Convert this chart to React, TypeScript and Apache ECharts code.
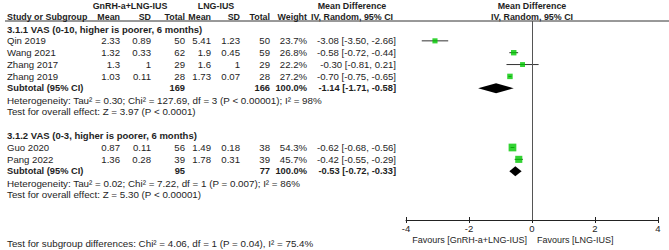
import React, { useEffect, useRef } from 'react';
import * as echarts from 'echarts';

// ---------- data ----------
const studies = ['Qin 2019', 'Wang 2021', 'Zhang 2017', 'Zhang 2019', 'Guo 2020', 'Pang 2022'];
const studyGroup = [0, 0, 0, 0, 1, 1];
const expMean = [2.33, 1.32, 1.3, 1.03, 0.87, 1.36];
const expSD = [0.89, 0.33, 1, 0.11, 0.11, 0.28];
const expTotal = [50, 62, 29, 28, 56, 39];
const ctlMean = [5.41, 1.9, 1.6, 1.73, 1.49, 1.78];
const ctlSD = [1.23, 0.45, 1, 0.07, 0.18, 0.31];
const ctlTotal = [50, 59, 29, 28, 38, 39];
const weight = [23.7, 26.8, 22.2, 27.2, 54.3, 45.7];
const md = [-3.08, -0.58, -0.3, -0.7, -0.62, -0.42];
const mdLo = [-3.5, -0.72, -0.81, -0.75, -0.68, -0.55];
const mdHi = [-2.66, -0.44, 0.21, -0.65, -0.56, -0.29];

const subgroupTitles = [
  '3.1.1 VAS (0-10, higher is poorer, 6 months)',
  '3.1.2 VAS (0-3, higher is poorer, 6 months)',
];
const subExpTotal = [169, 95];
const subCtlTotal = [166, 77];
const subWeight = [100.0, 100.0];
const subMd = [-1.14, -0.53];
const subLo = [-1.71, -0.72];
const subHi = [-0.58, -0.33];
const heterogeneity = [
  'Heterogeneity: Tau² = 0.30; Chi² = 127.69, df = 3 (P < 0.00001); I² = 98%',
  'Heterogeneity: Tau² = 0.02; Chi² = 7.22, df = 1 (P = 0.007); I² = 86%',
];
const overallEffect = [
  'Test for overall effect: Z = 3.97 (P < 0.0001)',
  'Test for overall effect: Z = 5.30 (P < 0.00001)',
];
const subgroupDiff = 'Test for subgroup differences: Chi² = 4.06, df = 1 (P = 0.04), I² = 75.4%';
const xTicks = [-4, -2, 0, 2, 4];
const favoursLeft = 'Favours [GnRH-a+LNG-IUS]';
const favoursRight = 'Favours [LNG-IUS]';

// ---------- layout ----------
const W = 669;
const H = 250;
const FONT = '"Liberation Sans", Arial, sans-serif';
const ROW0 = 29;
const ROWH = 11.85;
const rowY = (k: number) => ROW0 + ROWH * k;
const GRID_TOP = 21;
const AXIS_Y = 220;
const PLOT_L = 406;
const PLOT_R = 658;
const TXT = '#1e1e1e';
const BODY = 9.6;
const NOTE = 9.8;

const COL = {
  name: 7,
  expMean: 120,
  expSD: 151,
  expTotal: 185,
  ctlMean: 211,
  ctlSD: 240,
  ctlTotal: 270,
  weight: 307,
  ci: 396,
};

function fmtCI(m: number, l: number, h: number) {
  return `${m.toFixed(2)} [${l.toFixed(2)}, ${h.toFixed(2)}]`;
}

export default function App() {
  const ref = useRef<HTMLDivElement>(null);

  useEffect(() => {
    if (!ref.current) return;
    const chart = echarts.init(ref.current, undefined, { renderer: 'svg' });

    const texts: any[] = [];
    const t = (
      text: string,
      x: number,
      y: number,
      align: string,
      opts: { bold?: boolean; size?: number } = {}
    ) => {
      texts.push({
        type: 'text',
        x,
        y,
        silent: true,
        style: {
          text,
          fill: TXT,
          fontFamily: FONT,
          fontSize: opts.size ?? BODY,
          fontWeight: opts.bold ? 'bold' : 'normal',
          textAlign: align,
          textVerticalAlign: 'middle',
        },
      });
    };

    // headers
    const h1 = 6;
    const h2 = 16.5;
    const hb = { bold: true, size: 8.9 };
    t('GnRH-a+LNG-IUS', 130, h1, 'center', hb);
    t('LNG-IUS', 216, h1, 'center', hb);
    t('Mean Difference', 352, h1, 'center', hb);
    t('Mean Difference', 532, h1, 'center', hb);
    t('Study or Subgroup', COL.name, h2, 'left', hb);
    t('Mean', COL.expMean, h2, 'right', hb);
    t('SD', COL.expSD, h2, 'right', hb);
    t('Total', COL.expTotal, h2, 'right', hb);
    t('Mean', COL.ctlMean, h2, 'right', hb);
    t('SD', COL.ctlSD, h2, 'right', hb);
    t('Total', COL.ctlTotal, h2, 'right', hb);
    t('Weight', COL.weight, h2, 'right', hb);
    t('IV, Random, 95% CI', 352, h2, 'center', hb);
    t('IV, Random, 95% CI', 532, h2, 'center', hb);

    // body rows
    const studyRows: number[] = [];
    const subRows: number[] = [];
    let k = 0;
    subgroupTitles.forEach((title, g) => {
      t(title, COL.name, rowY(k), 'left', { bold: true, size: 9.5 });
      k++;
      studies.forEach((s, i) => {
        if (studyGroup[i] !== g) return;
        const y = rowY(k);
        studyRows[i] = k;
        t(s, COL.name, y, 'left');
        t(String(expMean[i]), COL.expMean, y, 'right');
        t(String(expSD[i]), COL.expSD, y, 'right');
        t(String(expTotal[i]), COL.expTotal, y, 'right');
        t(String(ctlMean[i]), COL.ctlMean, y, 'right');
        t(String(ctlSD[i]), COL.ctlSD, y, 'right');
        t(String(ctlTotal[i]), COL.ctlTotal, y, 'right');
        t(weight[i].toFixed(1) + '%', COL.weight, y, 'right');
        t(fmtCI(md[i], mdLo[i], mdHi[i]), COL.ci, y, 'right');
        k++;
      });
      const ys = rowY(k);
      subRows[g] = k;
      const sb = { bold: true, size: 9.3 };
      t('Subtotal (95% CI)', COL.name, ys, 'left', sb);
      t(String(subExpTotal[g]), COL.expTotal, ys, 'right', sb);
      t(String(subCtlTotal[g]), COL.ctlTotal, ys, 'right', sb);
      t(subWeight[g].toFixed(1) + '%', COL.weight, ys, 'right', sb);
      t(fmtCI(subMd[g], subLo[g], subHi[g]), COL.ci, ys, 'right', sb);
      k++;
      t(heterogeneity[g], COL.name, rowY(k), 'left', { size: NOTE });
      k++;
      t(overallEffect[g], COL.name, rowY(k), 'left', { size: NOTE });
      k++;
      k++;
    });
    t(subgroupDiff, COL.name, 243, 'left', { size: NOTE });
    t(favoursLeft, 527, 240, 'right', { size: 9 });
    t(favoursRight, 537, 240, 'left', { size: 9 });

    const yMin = (GRID_TOP - ROW0) / ROWH;
    const yMax = (AXIS_Y - ROW0) / ROWH;

    const ciData = studies.map((_, i) => [mdLo[i], mdHi[i], studyRows[i]]);
    const sqData = studies.map((_, i) => [md[i], studyRows[i], weight[i]]);
    const diaData = subgroupTitles.map((_, g) => [subLo[g], subMd[g], subHi[g], subRows[g]]);

    chart.setOption({
      animation: false,
      grid: {
        left: PLOT_L,
        right: W - PLOT_R,
        top: GRID_TOP,
        bottom: H - AXIS_Y,
        containLabel: false,
      },
      xAxis: [
        {
          type: 'value',
          min: xTicks[0],
          max: xTicks[xTicks.length - 1],
          interval: 2,
          position: 'bottom',
          splitLine: { show: false },
          axisLine: { show: true, onZero: false, lineStyle: { color: '#222', width: 1 } },
          axisTick: { show: true, length: 3, lineStyle: { color: '#222' } },
          axisLabel: {
            show: true,
            margin: 3,
            color: '#222',
            fontSize: 9.5,
            fontFamily: FONT,
            formatter: (v: number) => String(v),
          },
        },
        {
          type: 'value',
          min: xTicks[0],
          max: xTicks[xTicks.length - 1],
          interval: 2,
          position: 'bottom',
          splitLine: { show: false },
          axisLine: { show: false, onZero: false },
          axisTick: { show: true, inside: true, length: 3, lineStyle: { color: '#222' } },
          axisLabel: { show: false },
        },
      ],
      yAxis: {
        type: 'value',
        min: yMin,
        max: yMax,
        inverse: true,
        show: false,
      },
      graphic: [
        {
          type: 'line',
          silent: true,
          shape: { x1: 5, y1: GRID_TOP, x2: W, y2: GRID_TOP },
          style: { stroke: '#333', lineWidth: 1 },
        },
        ...texts,
      ],
      series: [
        {
          type: 'custom',
          name: 'ci',
          z: 2,
          silent: true,
          data: ciData,
          encode: { x: [0, 1], y: 2 },
          renderItem: (params: any, api: any) => {
            const p1 = api.coord([api.value(0), api.value(2)]);
            const p2 = api.coord([api.value(1), api.value(2)]);
            return {
              type: 'line',
              shape: { x1: p1[0], y1: p1[1], x2: p2[0], y2: p2[1] },
              style: { stroke: '#333', lineWidth: 1 },
            };
          },
        },
        {
          type: 'scatter',
          name: 'md',
          z: 3,
          silent: true,
          symbol: 'rect',
          symbolSize: (v: number[]) => Math.sqrt(v[2]) * 1.05,
          itemStyle: { color: '#00c800' },
          data: sqData,
          markLine: {
            silent: true,
            symbol: ['none', 'none'],
            label: { show: false },
            lineStyle: { color: '#555', width: 1, type: 'solid' },
            data: [{ xAxis: 0 }],
          },
        },
        {
          type: 'custom',
          name: 'subtotal',
          z: 4,
          silent: true,
          data: diaData,
          encode: { x: [0, 1, 2], y: 3 },
          renderItem: (params: any, api: any) => {
            const yv = api.value(3);
            const a = api.coord([api.value(0), yv]);
            const m = api.coord([api.value(1), yv]);
            const b = api.coord([api.value(2), yv]);
            const hh = 5;
            return {
              type: 'polygon',
              shape: {
                points: [
                  [a[0], a[1]],
                  [m[0], m[1] - hh],
                  [b[0], b[1]],
                  [m[0], m[1] + hh],
                ],
              },
              style: { fill: '#000' },
            };
          },
        },
      ],
    });

    return () => chart.dispose();
  }, []);

  return (
    <div
      ref={ref}
      style={{ position: 'fixed', left: 0, top: 0, width: W, height: H, background: '#fff' }}
    />
  );
}
